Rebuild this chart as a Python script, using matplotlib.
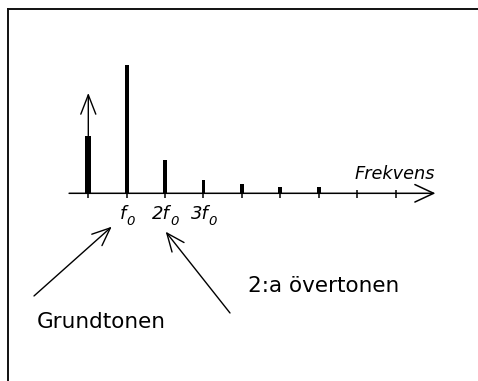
"""Spectrum sketch: fundamental and overtones on a frequency axis."""

import matplotlib

matplotlib.use("Agg")

import matplotlib.pyplot as plt

# harmonic index along the frequency axis and relative amplitude
harmonics = [0, 1, 2, 3, 4, 5, 6, 7, 8]
amplitudes = [0.45, 1.0, 0.26, 0.10, 0.07, 0.052, 0.047, 0.0, 0.0]
# the arrow on the first line reaches this level
arrow_top = 0.784

label_positions = [1, 2, 3]
tick_labels = ["f", "2f", "3f"]
tick_subscript = "0"

axis_label = "Frekvens"
note_fundamental = "Grundtonen"
note_overtone = "2:a övertonen"


def main() -> None:
    fig = plt.figure(figsize=(4.78, 3.81), dpi=100)
    # left/top spines of this axes form the frame around the drawing
    ax = fig.add_axes([8 / 478, 0, 470 / 478, 372 / 381])
    ax.set_xlim(-2.0911, 10.1484)
    ax.set_ylim(-1.4664, 1.4398)
    ax.set_xticks([])
    ax.set_yticks([])
    for side in ("right", "bottom"):
        ax.spines[side].set_visible(False)
    for side in ("left", "top"):
        ax.spines[side].set_linewidth(1.4)
        ax.spines[side].set_color("#111111")

    widths = [0.16] + [0.1] * (len(harmonics) - 1)
    ax.bar(harmonics, amplitudes, width=widths, color="black", zorder=3)

    # frequency axis with open arrow head
    ax.annotate(
        "",
        xy=(9.04, 0),
        xytext=(-0.5, 0),
        arrowprops=dict(
            arrowstyle="->,head_length=1.35,head_width=0.63",
            mutation_scale=10,
            lw=1.1,
            color="black",
            shrinkA=0,
            shrinkB=0,
        ),
    )
    ax.vlines(harmonics, -0.034, 0.026, color="black", lw=1.1)

    # arrow on top of the first line
    ax.annotate(
        "",
        xy=(harmonics[0], arrow_top),
        xytext=(harmonics[0], amplitudes[0]),
        arrowprops=dict(
            arrowstyle="->,head_length=1.39,head_width=0.54",
            mutation_scale=10,
            lw=1.0,
            color="black",
            shrinkA=0,
            shrinkB=0,
        ),
    )

    ax.text(7.99, 0.112, axis_label, fontsize=12.8, style="italic",
            ha="center", va="baseline")

    # f0, 2f0, 3f0 with an italic subscript zero
    for pos, lab in zip(label_positions, tick_labels):
        main_txt = ax.annotate(
            lab, xy=(pos, -0.203), xytext=(-4, 0), textcoords="offset pixels",
            fontsize=13, style="italic", ha="center", va="baseline",
        )
        ax.annotate(
            tick_subscript, xy=(1, 0), xycoords=main_txt,
            xytext=(0, -5), textcoords="offset pixels",
            fontsize=9.5, style="italic", ha="left", va="bottom",
        )

    arrow_kw = dict(
        arrowstyle="->,head_length=1.3,head_width=0.55",
        mutation_scale=10,
        lw=1.0,
        color="black",
        shrinkA=0,
        shrinkB=0,
    )
    ax.annotate("", xy=(0.609, -0.261), xytext=(-1.414, -0.802),
                arrowprops=arrow_kw)
    ax.annotate("", xy=(2.016, -0.300), xytext=(3.690, -0.935),
                arrowprops=arrow_kw)

    ax.text(0.344, -1.055, note_fundamental, fontsize=15.5,
            ha="center", va="baseline")
    ax.text(6.14, -0.769, note_overtone, fontsize=15.5,
            ha="center", va="baseline")

    fig.savefig("out.png", dpi=100)
    plt.close(fig)


if __name__ == "__main__":
    main()
